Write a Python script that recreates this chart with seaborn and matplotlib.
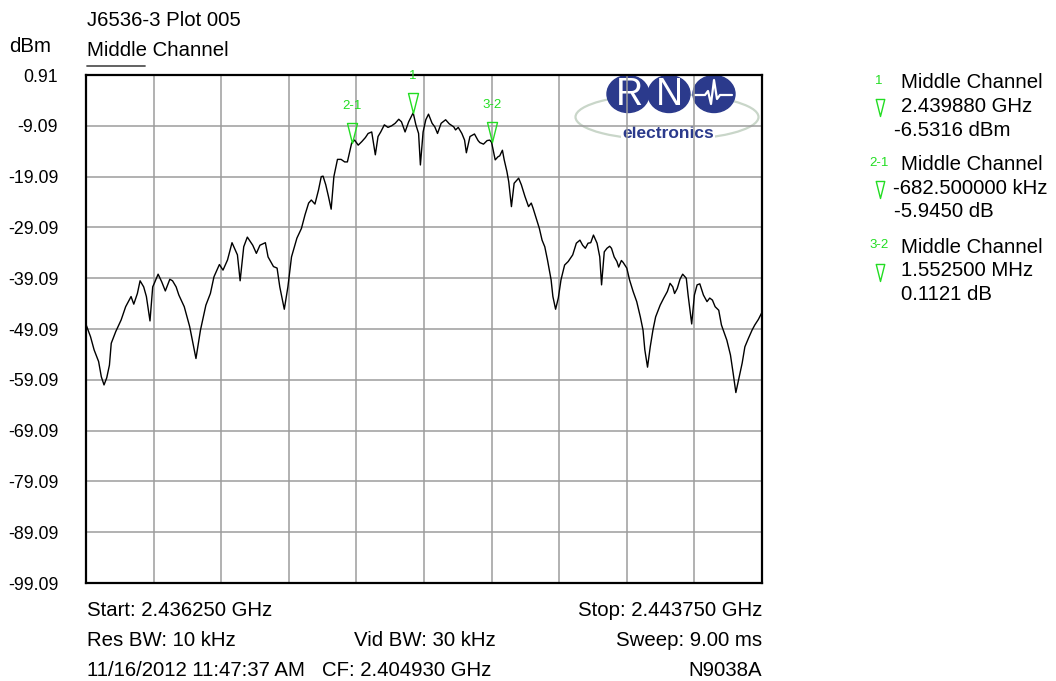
import numpy as np
import pandas as pd
import matplotlib
matplotlib.use("Agg")
import matplotlib.pyplot as plt
import matplotlib.transforms as mtransforms
from matplotlib.path import Path
from matplotlib.patches import Ellipse
from matplotlib.lines import Line2D
import seaborn as sns

# ---------------------------------------------------------------- data
start_ghz = 2.436250
stop_ghz = 2.443750
center_ghz = 2.404930

freq_mhz = [
    2436.25, 2436.30, 2436.34, 2436.39, 2436.42, 2436.45, 2436.48, 2436.51, 2436.53, 2436.58,
    2436.64, 2436.69, 2436.75, 2436.78, 2436.82, 2436.85, 2436.89, 2436.92, 2436.96, 2436.99,
    2437.01, 2437.05, 2437.09, 2437.13, 2437.18, 2437.21, 2437.25, 2437.28, 2437.34, 2437.40,
    2437.47, 2437.52, 2437.58, 2437.63, 2437.67, 2437.73, 2437.77, 2437.82, 2437.87, 2437.93,
    2437.96, 2438.00, 2438.04, 2438.10, 2438.14, 2438.18, 2438.24, 2438.27, 2438.33, 2438.37,
    2438.40, 2438.45, 2438.49, 2438.53, 2438.59, 2438.64, 2438.68, 2438.72, 2438.75, 2438.79,
    2438.83, 2438.86, 2438.88, 2438.91, 2438.94, 2438.97, 2439.00, 2439.04, 2439.08, 2439.12,
    2439.15, 2439.1975, 2439.23, 2439.27, 2439.31, 2439.35, 2439.38, 2439.42, 2439.46, 2439.49,
    2439.52, 2439.56, 2439.60, 2439.64, 2439.68, 2439.72, 2439.75, 2439.79, 2439.83, 2439.88,
    2439.91, 2439.94, 2439.96, 2439.99, 2440.02, 2440.05, 2440.09, 2440.12, 2440.15, 2440.19,
    2440.24, 2440.28, 2440.33, 2440.35, 2440.38, 2440.42, 2440.45, 2440.47, 2440.51, 2440.56,
    2440.60, 2440.62, 2440.66, 2440.70, 2440.73, 2440.75, 2440.79, 2440.82, 2440.84, 2440.87,
    2440.89, 2440.92, 2440.94, 2440.97, 2441.00, 2441.05, 2441.08, 2441.12, 2441.16, 2441.19,
    2441.21, 2441.24, 2441.28, 2441.31, 2441.34, 2441.37, 2441.41, 2441.43, 2441.46, 2441.49,
    2441.52, 2441.56, 2441.60, 2441.65, 2441.69, 2441.73, 2441.76, 2441.79, 2441.82, 2441.85,
    2441.88, 2441.92, 2441.95, 2441.97, 2442.00, 2442.03, 2442.06, 2442.08, 2442.11, 2442.14,
    2442.16, 2442.19, 2442.21, 2442.25, 2442.28, 2442.32, 2442.36, 2442.40, 2442.43, 2442.45,
    2442.48, 2442.51, 2442.54, 2442.57, 2442.62, 2442.66, 2442.70, 2442.73, 2442.76, 2442.78,
    2442.81, 2442.84, 2442.87, 2442.91, 2442.93, 2442.97, 2443.00, 2443.03, 2443.06, 2443.10,
    2443.14, 2443.17, 2443.20, 2443.23, 2443.27, 2443.30, 2443.36, 2443.40, 2443.43, 2443.46,
    2443.49, 2443.53, 2443.56, 2443.60, 2443.64, 2443.67, 2443.71, 2443.75,
]

level_dbm = [
    -48.2, -50.6, -53.2, -55.5, -58.5, -60.1, -58.7, -56.2, -51.9, -49.6,
    -47.3, -44.7, -42.7, -44.2, -42.1, -39.6, -40.8, -42.7, -47.5, -40.8,
    -40.0, -38.3, -39.8, -41.6, -39.3, -39.6, -40.8, -42.4, -44.7, -48.6,
    -54.9, -49.3, -44.4, -42.1, -38.8, -36.4, -37.5, -35.5, -32.1, -34.5,
    -39.6, -32.9, -31.0, -32.6, -34.2, -32.6, -32.1, -34.9, -36.8, -37.1,
    -40.8, -45.2, -40.8, -34.9, -31.2, -29.3, -26.6, -24.3, -23.7, -24.5,
    -21.7, -19.1, -19.0, -20.7, -23.0, -25.5, -19.1, -15.7, -15.7, -16.2,
    -16.2, -12.4766, -11.9, -12.9, -12.2, -11.4, -10.6, -10.3, -14.8, -11.2,
    -10.3, -8.9, -9.4, -9.1, -8.6, -7.8, -8.3, -10.3, -8.3, -6.5316,
    -8.9, -10.6, -16.8, -10.3, -7.9, -6.8, -8.6, -9.3, -10.6, -8.6,
    -7.9, -8.7, -9.3, -9.9, -9.4, -10.6, -11.9, -14.4, -11.2, -10.7,
    -12.0, -12.4, -12.7, -12.0, -11.9, -12.3645, -15.8, -15.2, -15.0, -13.9,
    -15.8, -18.1, -20.1, -25.0, -20.4, -19.4, -20.7, -23.0, -25.0, -24.3,
    -25.3, -27.0, -29.3, -31.6, -32.9, -35.5, -39.4, -42.7, -45.2, -43.0,
    -39.4, -36.5, -35.8, -34.5, -32.2, -31.6, -32.6, -33.2, -32.2, -32.1,
    -30.6, -32.2, -34.9, -40.4, -33.9, -33.2, -32.8, -33.2, -34.9, -35.8,
    -36.9, -35.6, -36.0, -37.1, -39.4, -41.7, -43.7, -46.7, -49.3, -53.2,
    -56.6, -52.6, -49.3, -46.7, -44.4, -43.0, -41.7, -40.1, -40.8, -42.1,
    -41.1, -39.3, -38.3, -39.1, -42.4, -48.1, -42.4, -40.4, -40.2, -42.4,
    -43.7, -43.0, -43.4, -44.7, -45.4, -48.3, -51.3, -54.2, -57.8, -61.6,
    -59.1, -55.8, -52.6, -50.9, -49.3, -48.3, -47.2, -45.8,
]

y_ticks = [0.91, -9.09, -19.09, -29.09, -39.09, -49.09,
           -59.09, -69.09, -79.09, -89.09, -99.09]

# marker readouts: a normal marker and two delta markers
marker1_freq_ghz = 2.439880
marker1_level_dbm = -6.5316
delta21_freq_khz = -682.5
delta21_level_db = -5.9450
delta32_freq_mhz = 1.5525
delta32_level_db = 0.1121
marker_names = ["1", "2-1", "3-2"]
trace_name = "Middle Channel"

# marker positions derived from the readouts
m1_f = marker1_freq_ghz * 1000.0
m2_f = m1_f + delta21_freq_khz / 1000.0
m3_f = m2_f + delta32_freq_mhz
m1_l = marker1_level_dbm
m2_l = m1_l + delta21_level_db
m3_l = m2_l + delta32_level_db
marker_freq = [m1_f, m2_f, m3_f]
marker_level = [m1_l, m2_l, m3_l]

# ---------------------------------------------------------------- style
sns.set_theme(style="white")
plt.rcParams["font.family"] = ["Liberation Sans", "DejaVu Sans"]

W, H = 1056, 681
GREEN = "#22dd22"
NAVY = "#2b3a8c"
TXT = 14.7
TICK = 12.8

fig = plt.figure(figsize=(W / 100, H / 100), dpi=100)
fig.patch.set_facecolor("white")
# image-pixel coordinates (origin top-left) for decorations
px = mtransforms.Affine2D().scale(1 / W, -1 / H).translate(0, 1) + fig.transFigure

ax = fig.add_axes([86 / W, 1 - 583 / H, 676 / W, 508 / H])
ax.set_facecolor("white")

trace = pd.DataFrame({"freq": freq_mhz, "level": level_dbm})
sns.lineplot(data=trace, x="freq", y="level", ax=ax, color="black",
             linewidth=1.0, sort=False, estimator=None, zorder=3)

ax.set_xlim(start_ghz * 1000, stop_ghz * 1000)
ax.set_ylim(y_ticks[-1], y_ticks[0])
ax.set_xticks(np.linspace(start_ghz * 1000, stop_ghz * 1000, 11))
ax.set_xticklabels([])
ax.set_yticks(y_ticks)
ax.set_yticklabels([f"{v:.2f}" for v in y_ticks])
ax.tick_params(axis="both", length=0, pad=20, labelsize=TICK, colors="black")
ax.set_xlabel("")
ax.set_ylabel("")
ax.grid(True, color="#9c9c9c", linewidth=1.1)
ax.set_axisbelow(True)
for sp in ax.spines.values():
    sp.set_visible(True)
    sp.set_color("black")
    sp.set_linewidth(1.6)

# downward triangle with its tip at the anchor point
tri = Path([(-0.25, 1.0), (0.25, 1.0), (0.0, 0.0), (-0.25, 1.0)],
           [Path.MOVETO, Path.LINETO, Path.LINETO, Path.CLOSEPOLY])

ax.plot(marker_freq, marker_level, ls="none", marker=tri, ms=28.8,
        mfc="none", mec=GREEN, mew=1.0, clip_on=False, zorder=5)
for name, f, l in zip(marker_names, marker_freq, marker_level):
    ax.annotate(name, (f, l), xytext=(0, 26.6), textcoords="offset points",
                ha="center", va="center", color=GREEN, fontsize=9.5,
                annotation_clip=False, zorder=5)

# company logo behind the grid
logo_z = 0.2
ax.add_patch(Ellipse((667, 117), 183, 46, transform=px, fill=False,
                     edgecolor="#c9d6c9", linewidth=1.6, zorder=logo_z, clip_on=False))
for cx in (628, 669, 714):
    ax.add_patch(Ellipse((cx, 94), 42, 37, transform=px, facecolor=NAVY,
                         edgecolor=NAVY, zorder=logo_z + 0.05, clip_on=False))
ax.text(629, 95, "R", transform=px, ha="center", va="center", color="white",
        fontsize=27, zorder=logo_z + 0.1)
ax.text(669, 95, "N", transform=px, ha="center", va="center", color="white",
        fontsize=27, zorder=logo_z + 0.1)
pulse_x = [695, 705, 708, 711, 714, 717, 720, 732]
pulse_y = [95, 95, 91, 104, 80, 99, 95, 95]
ax.plot(pulse_x, pulse_y, transform=px, color="white", linewidth=1.6,
        zorder=logo_z + 0.1, clip_on=False)
ax.text(668, 133, "electronics", transform=px, ha="center", va="center",
        color=NAVY, fontsize=12.5, fontweight="bold", zorder=logo_z + 0.1,
        bbox=dict(facecolor="white", edgecolor="none", pad=1.0))


def ftext(x, y, s, ha="left", **kw):
    fig.text(x / W, 1 - y / H, s, ha=ha, va="center_baseline", fontsize=kw.pop("fontsize", TXT),
             color=kw.pop("color", "black"), **kw)


# header
ftext(87, 18, "J6536-3 Plot 005")
ftext(9, 45, "dBm")
ftext(87, 48, trace_name)
fig.add_artist(Line2D([87, 145], [66, 66], transform=px, color="#555555", linewidth=1.3))

# footer
ftext(87, 608, f"Start: {start_ghz:.6f} GHz")
ftext(762, 608, f"Stop: {stop_ghz:.6f} GHz", ha="right")
ftext(87, 638, "Res BW: 10 kHz")
ftext(425, 638, "Vid BW: 30 kHz", ha="center")
ftext(762, 638, "Sweep: 9.00 ms", ha="right")
ftext(87, 668, "11/16/2012 11:47:37 AM")
ftext(322, 668, f"CF: {center_ghz:.6f} GHz")
ftext(762, 668, "N9038A", ha="right")

# marker readout table
readouts = [
    (f"{marker1_freq_ghz:.6f} GHz", f"{marker1_level_dbm:.4f} dBm"),
    (f"{delta21_freq_khz:.6f} kHz", f"{delta21_level_db:.4f} dB"),
    (f"{delta32_freq_mhz:.6f} MHz", f"{delta32_level_db:.4f} dB"),
]
row_top = [81, 163, 246]
for name, (fs, ls_), y0 in zip(marker_names, readouts, row_top):
    ftext(879, y0 - 2, name, ha="center", color=GREEN, fontsize=9.5)
    fig.add_artist(Line2D([880], [y0 + 35], transform=px, ls="none", marker=tri,
                          ms=24.5, mfc="none", mec=GREEN, mew=1.0))
    ftext(901, y0, trace_name)
    ftext(901 if not fs.startswith("-") else 893, y0 + 23, fs)
    ftext(901 if not ls_.startswith("-") else 894, y0 + 47, ls_)

fig.savefig("out.png", dpi=100, facecolor="white")
